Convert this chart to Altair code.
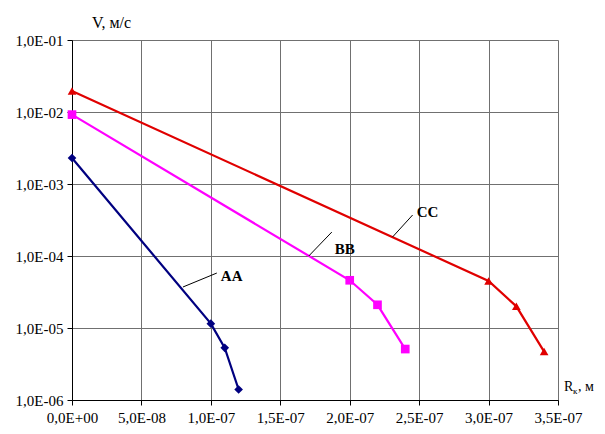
import altair as alt
import pandas as pd

# ---- data ----
aa_x = [0.0, 1.0e-7, 1.1e-7, 1.2e-7]
aa_v = [2.3e-3, 1.15e-5, 5.3e-6, 1.4e-6]
bb_x = [0.0, 2.0e-7, 2.2e-7, 2.4e-7]
bb_v = [9.2e-3, 4.6e-5, 2.1e-5, 5.1e-6]
cc_x = [0.0, 3.0e-7, 3.2e-7, 3.4e-7]
cc_v = [1.96e-2, 4.5e-5, 2.0e-5, 4.7e-6]

series_names = ["AA", "BB", "CC"]
series_colors = ["#000080", "#FF00FF", "#E00000"]
series_shapes = ["diamond", "square", "triangle-up"]

x_ticks = [0.0, 5e-8, 1e-7, 1.5e-7, 2e-7, 2.5e-7, 3e-7, 3.5e-7]
x_labels = ["0,0E+00", "5,0E-08", "1,0E-07", "1,5E-07", "2,0E-07", "2,5E-07", "3,0E-07", "3,5E-07"]
y_ticks = [1e-6, 1e-5, 1e-4, 1e-3, 1e-2, 1e-1]
y_labels = ["1,0E-06", "1,0E-05", "1,0E-04", "1,0E-03", "1,0E-02", "1,0E-01"]

# annotation labels and leader lines
lab_text = ["AA", "BB", "CC"]
lab_x = [1.072e-7, 1.892e-7, 2.482e-7]
lab_y = [5.27e-5, 1.25e-4, 4.08e-4]
lead_x1 = [0.799e-7, 1.705e-7, 2.309e-7]
lead_y1 = [3.71e-5, 1.0e-4, 1.84e-4]
lead_x2 = [1.043e-7, 1.871e-7, 2.453e-7]
lead_y2 = [5.8e-5, 2.15e-4, 3.71e-4]

rows = []
for name, xs, vs in zip(series_names, [aa_x, bb_x, cc_x], [aa_v, bb_v, cc_v]):
    for x, v in zip(xs, vs):
        rows.append({"series": name, "r": x, "v": v})
df = pd.DataFrame(rows)

labels_df = pd.DataFrame({"text": lab_text, "x": lab_x, "y": lab_y})
leads_df = pd.DataFrame({"x1": lead_x1, "y1": lead_y1, "x2": lead_x2, "y2": lead_y2})

serif = "Liberation Serif"

x_expr = "[" + ",".join("'%s'" % s for s in x_labels) + "][round(datum.value/5e-8)]"
y_expr = "[" + ",".join("'%s'" % s for s in y_labels) + "][round(log(datum.value)/log(10))+6]"

xscale = alt.Scale(domain=[0, 3.5e-7], nice=False, zero=False)
yscale = alt.Scale(type="log", domain=[1e-6, 1e-1], nice=False)

xenc = alt.X("r:Q", scale=xscale, axis=alt.Axis(
    values=x_ticks, labelExpr=x_expr, title=None, grid=True, gridColor="#707070",
    gridWidth=1, domainColor="#000000", tickColor="#000000", tickSize=5,
    labelFont=serif, labelFontSize=15, labelColor="#000000", labelPadding=5,
    labelFlush=False, labelOverlap=False))
yenc = alt.Y("v:Q", scale=yscale, axis=alt.Axis(
    values=y_ticks, labelExpr=y_expr, title="V, м/с", titleAngle=0,
    titleX=39, titleY=-18, titleAlign="center", titleBaseline="middle",
    titleFont=serif, titleFontSize=16, titleFontWeight="normal", titleColor="#000000",
    grid=True, gridColor="#707070", gridWidth=1, domainColor="#000000",
    tickColor="#000000", tickSize=5, labelFont=serif, labelFontSize=15,
    labelColor="#000000", labelPadding=4, labelOverlap=False))

color = alt.Color("series:N", scale=alt.Scale(domain=series_names, range=series_colors), legend=None)
shape = alt.Shape("series:N", scale=alt.Scale(domain=series_names, range=series_shapes), legend=None)

base = alt.Chart(df)
lines = base.mark_line(interpolate="linear", strokeWidth=2.2).encode(
    x=xenc, y=yenc, color=color, detail="series:N")
points = base.mark_point(filled=True, size=75, opacity=1).encode(
    x="r:Q", y="v:Q", color=color, shape=shape)

leads = alt.Chart(leads_df).mark_rule(color="#000000", strokeWidth=1).encode(
    x="x1:Q", y="y1:Q", x2="x2:Q", y2="y2:Q")
texts = alt.Chart(labels_df).mark_text(
    font=serif, fontSize=15, fontWeight="bold", align="left", baseline="middle",
    color="#000000").encode(x="x:Q", y="y:Q", text="text:N")

r_main = alt.Chart(labels_df.head(1)).mark_text(
    font=serif, fontSize=14, align="left", baseline="middle", color="#000000", text="R"
).encode(x=alt.value(492), y=alt.value(347))
r_sub = alt.Chart(labels_df.head(1)).mark_text(
    font=serif, fontSize=9, align="left", baseline="middle", color="#000000", text="к"
).encode(x=alt.value(501), y=alt.value(351))
r_rest = alt.Chart(labels_df.head(1)).mark_text(
    font=serif, fontSize=14, align="left", baseline="middle", color="#000000", text=", м"
).encode(x=alt.value(506), y=alt.value(347))

chart = alt.layer(lines, points, leads, texts, r_main, r_sub, r_rest).properties(
    width=486, height=360,
    autosize=alt.AutoSizeParams(type="none"),
    padding={"left": 64, "top": 32, "right": 39, "bottom": 26},
).configure_view(stroke=None).configure(background="#ffffff")

chart.save("out.html", embed_options={"renderer": "svg", "actions": False})
